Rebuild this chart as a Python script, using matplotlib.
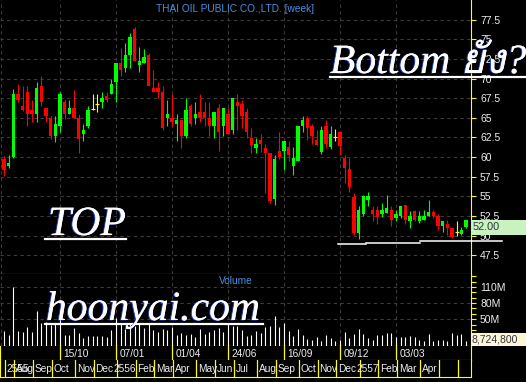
import matplotlib
matplotlib.use("Agg")
import matplotlib.pyplot as plt
from matplotlib import font_manager, patheffects
from matplotlib.ft2font import FT2Font
from matplotlib.lines import Line2D
from matplotlib.patches import Rectangle

# weekly candles, THAI OIL, from week of 23/07/2012
opens = [59.7, 58.8, 60.0, 68.0, 66.5, 68.3, 66.0, 65.5, 69.0, 66.3,
         65.0, 62.7, 63.9, 67.0, 65.5, 66.3, 65.0, 62.9, 63.9, 66.1,
         66.8, 67.0, 67.8, 68.0, 69.5, 72.0, 71.4, 73.0, 76.3, 71.7,
         72.0, 73.0, 68.8, 68.8, 68.3, 65.0, 65.0, 64.2, 64.7, 62.7,
         66.5, 65.0, 65.7, 65.7, 65.0, 63.9, 66.3, 63.9, 65.5, 63.4,
         67.0, 66.7, 65.7, 62.4, 61.1, 62.2, 61.2, 60.5, 54.7, 60.8,
         60.8, 61.3, 58.9, 59.5, 63.9, 65.0, 63.9, 62.2, 60.7, 63.9,
         61.3, 62.5, 63.2, 59.9, 58.5, 54.9, 50.3, 52.8, 54.5, 53.3,
         53.3, 52.8, 52.9, 53.3, 52.2, 52.5, 53.9, 51.8, 53.1, 51.8,
         52.0, 52.5, 53.0, 52.5, 51.2, 51.5, 50.9, 50.4, 50.2, 51.1]
highs = [60.1, 60.3, 68.7, 69.3, 69.0, 69.0, 67.2, 69.5, 70.3, 66.3,
         65.2, 65.2, 68.3, 67.2, 67.2, 68.5, 65.5, 64.2, 66.5, 68.0,
         68.0, 68.3, 68.3, 70.0, 72.0, 73.9, 74.5, 75.8, 76.5, 74.0,
         73.7, 73.2, 71.1, 69.5, 69.0, 67.2, 68.0, 65.5, 64.7, 67.5,
         66.7, 67.0, 68.0, 67.0, 67.0, 65.7, 66.7, 66.3, 66.3, 67.5,
         68.0, 67.2, 66.3, 63.7, 62.4, 62.9, 61.7, 60.5, 60.3, 63.2,
         62.0, 62.0, 61.3, 63.9, 65.2, 65.2, 64.2, 63.4, 63.9, 64.7,
         63.9, 63.6, 63.2, 60.3, 59.9, 55.4, 53.7, 55.2, 55.5, 53.7,
         53.7, 54.2, 55.2, 53.8, 53.3, 53.7, 53.9, 53.1, 53.3, 53.1,
         53.3, 54.5, 53.3, 52.8, 51.8, 52.0, 50.9, 51.8, 51.1, 52.0]
lows = [57.6, 58.6, 59.9, 67.0, 65.8, 63.9, 64.5, 64.5, 66.5, 64.5,
        62.3, 61.9, 63.2, 64.9, 65.5, 65.0, 60.5, 62.1, 63.7, 66.0,
        65.7, 66.3, 67.0, 68.0, 67.0, 70.3, 70.8, 71.4, 72.2, 70.8,
        72.0, 69.1, 68.3, 67.5, 63.4, 63.9, 63.9, 62.1, 61.1, 62.4,
        63.9, 64.2, 64.5, 63.9, 62.7, 62.4, 60.8, 62.7, 62.9, 62.9,
        63.4, 63.7, 62.4, 60.5, 60.5, 60.7, 55.4, 54.1, 53.9, 59.8,
        58.3, 59.5, 57.7, 59.5, 63.2, 62.2, 61.7, 61.5, 60.4, 61.1,
        61.0, 62.1, 60.3, 56.7, 55.5, 50.1, 49.5, 52.5, 53.7, 51.8,
        51.5, 52.4, 52.9, 51.2, 51.8, 52.2, 51.5, 51.0, 51.8, 51.6,
        52.0, 52.5, 52.2, 50.7, 50.5, 50.1, 49.7, 50.0, 50.1, 50.9]
closes = [58.3, 59.2, 68.0, 67.2, 66.0, 65.5, 65.5, 68.8, 67.0, 65.2,
          62.7, 64.2, 68.0, 65.5, 66.3, 65.0, 62.3, 63.4, 66.0, 66.1,
          66.8, 67.5, 67.2, 69.3, 72.0, 71.1, 73.0, 75.3, 72.2, 72.2,
          72.7, 69.1, 68.3, 68.3, 63.7, 65.5, 64.5, 64.7, 62.7, 66.0,
          64.2, 65.5, 65.0, 65.0, 63.9, 65.7, 63.2, 66.3, 62.9, 67.5,
          66.5, 65.2, 63.2, 61.5, 61.7, 61.7, 60.5, 54.4, 59.8, 60.0,
          62.0, 60.3, 59.9, 63.9, 64.7, 63.7, 62.7, 61.5, 63.4, 61.7,
          62.9, 62.5, 61.4, 58.6, 56.2, 50.3, 53.3, 55.0, 55.0, 52.8,
          52.4, 53.3, 53.5, 52.0, 52.8, 53.7, 52.0, 52.5, 52.0, 52.5,
          52.5, 53.0, 52.5, 51.2, 51.8, 50.9, 49.8, 50.4, 50.7, 52.0]
# volume in millions of shares
volumes = [27, 20, 110, 27, 26, 35, 26, 65, 42, 44,
           39, 42, 50, 20, 20, 34, 24, 14, 18, 18,
           18, 18, 17, 29, 53, 41, 32, 41, 38, 41,
           34, 41, 29, 26, 32, 30, 35, 21, 24, 20,
           23, 17, 32, 23, 26, 29, 34, 26, 41, 38,
           38, 30, 18, 20, 27, 24, 36, 38, 55, 36,
           43, 27, 18, 32, 21, 13, 11, 16, 9, 20,
           14, 9, 11, 26, 15, 23, 32, 23, 14, 11,
           21, 20, 25, 24, 16, 17, 16, 18, 17, 12,
           9, 22, 10, 11, 11, 9, 25, 21, 22, 8.7]

date_idx = [12, 24, 36, 48, 60, 72, 84]
date_labels = ["15/10", "07/01", "01/04", "24/06", "16/09", "09/12", "03/03"]
month_idx = [0, 2, 6, 10, 15, 19, 24, 28, 32, 36, 41, 45, 49,
             54, 58, 63, 67, 71, 76, 80, 84, 89, 93, 97]
month_labels = ["2555", "Aug", "Sep", "Oct", "Nov", "Dec", "2556", "Feb", "Mar",
                "Apr", "May", "Jun", "Jul", "Aug", "Sep", "Oct", "Nov", "Dec",
                "2557", "Feb", "Mar", "Apr", "", ""]
price_ticks = [47.5, 50, 52.5, 55, 57.5, 60, 62.5, 65, 67.5, 70, 72.5, 75, 77.5]
vol_ticks = list(range(10, 140, 10))
vol_labels = {50: "50M", 80: "80M", 110: "110M"}
support = [(71.6, 77.6, 48.9), (77.6, 89.2, 49.05), (89.2, 106.8, 49.25)]

# look for a font with thai glyphs for the overlay text
thai_family = None
for entry in font_manager.fontManager.ttflist:
    try:
        if 0x0E22 in FT2Font(entry.fname).get_charmap():
            thai_family = entry.name
            break
    except Exception:
        continue
serif = ["Liberation Serif"] + ([thai_family] if thai_family else []) + ["DejaVu Serif"]
sans = "Liberation Sans"

W, H = 526, 382
fig = plt.figure(figsize=(W / 100, H / 100), dpi=100, facecolor="black")
XR = 471 / W
xlim = (-0.857, 100.07)
grid_c = "#3c3c3c"
dash = (0, (3, 3))
txt_c = "#eeeeee"


def fy(py):
    return 1 - py / H


ax = fig.add_axes([0, fy(274), XR, 274 / H])
axv = fig.add_axes([0, fy(346), XR, 72 / H])
axd1 = fig.add_axes([0, fy(360), XR, 14 / H])
axd2 = fig.add_axes([0, fy(377), XR, 17 / H])

for a in (ax, axv, axd1, axd2):
    a.set_facecolor("black")
    a.set_xlim(*xlim)
    a.set_xticks([])
    for s in a.spines.values():
        s.set_visible(False)

# candles
idx = list(range(len(closes)))
colors, bottoms, heights = [], [], []
for o, c in zip(opens, closes):
    colors.append("#00ff00" if c > o else "#ff0000" if c < o else "#ffff00")
    bottoms.append(min(o, c))
    heights.append(abs(c - o))
ax.vlines(idx, lows, highs, colors=colors, lw=0.8, zorder=3)
ax.bar(idx, heights, width=0.7, bottom=bottoms, color=colors, lw=0, zorder=4)
for i, (o, c) in enumerate(zip(opens, closes)):
    if o == c:
        ax.hlines(c, i - 0.4, i + 0.4, colors="#ffff00", lw=0.8, zorder=4)

ax.set_ylim(45.1, 80)
ax.yaxis.tick_right()
ax.set_yticks(price_ticks)
ax.set_yticklabels([f"{v:g}" for v in price_ticks])
ax.tick_params(axis="y", colors="yellow", labelcolor=txt_c, length=3.5, width=0.8,
               labelsize=7.5, pad=3)
for lab in ax.get_yticklabels():
    lab.set_family(sans)
ax.grid(axis="y", color=grid_c, linestyle=dash, lw=0.8)
ax.spines["right"].set_visible(True)
ax.spines["right"].set_color("yellow")
ax.spines["bottom"].set_visible(True)
ax.spines["bottom"].set_color("yellow")
for d in date_idx + [-0.6]:
    ax.axvline(d, color=grid_c, linestyle=dash, lw=0.8, zorder=1)
ax.text(0.5, 0.985, "THAI OIL PUBLIC CO.,LTD. [week]", transform=ax.transAxes,
        ha="center", va="top", color="#4a8fe0", fontsize=7.3, family=sans)

for x0, x1, yv in support:
    ax.plot([x0, x1], [yv, yv], color="white", lw=1.1, zorder=5, clip_on=False)

# volume
axv.vlines(idx, 0, volumes, colors="white", lw=0.8, zorder=3)
axv.set_ylim(0, 134)
axv.yaxis.tick_right()
axv.set_yticks(vol_ticks)
axv.set_yticklabels([vol_labels.get(v, "") for v in vol_ticks])
axv.tick_params(axis="y", colors="yellow", labelcolor=txt_c, length=3.5, width=0.8,
                labelsize=7.5, pad=3)
for lab in axv.get_yticklabels():
    lab.set_family(sans)
for v in vol_labels:
    axv.axhline(v, color=grid_c, linestyle=dash, lw=0.8, zorder=1)
for d in date_idx + [-0.6]:
    axv.axvline(d, color=grid_c, linestyle=dash, lw=0.8, zorder=1)
for side in ("right", "bottom"):
    axv.spines[side].set_visible(True)
    axv.spines[side].set_color("yellow")
axv.text(0.5, 0.9, "Volume", transform=axv.transAxes, ha="center", va="center",
         color="#4a8fe0", fontsize=7.3, family=sans)

# date rows
for a in (axd1, axd2):
    a.set_ylim(0, 1)
    a.set_yticks([])
    for side in ("left", "right", "bottom"):
        a.spines[side].set_visible(True)
        a.spines[side].set_color("yellow")
for d, lab in zip(date_idx, date_labels):
    axd1.axvline(d, color="yellow", lw=0.9)
    axd1.text(d + 0.8, 0.45, lab, ha="left", va="center", color=txt_c,
              fontsize=7.3, family=sans)
for d, lab in zip(month_idx, month_labels):
    axd2.axvline(d + 0.2, color="yellow", lw=0.9)
    off = -0.5 if lab.isdigit() else 0.6
    if d == 0:
        off = 0.6
    axd2.text(d + off, 0.5, lab, ha="left", va="center", color=txt_c,
              fontsize=7.3, family=sans)

# last value boxes on the right
fig.add_artist(Rectangle((XR, fy(235)), 1 - XR, 15 / H, transform=fig.transFigure,
                         facecolor="#c8f2c0", lw=0, zorder=6))
fig.text(473 / W, fy(227.5), f"{closes[-1]:.2f}", ha="left", va="center",
         color="#303040", fontsize=7.8, family=sans, zorder=7)
fig.add_artist(Rectangle((XR, fy(346)), 1 - XR, 13 / H, transform=fig.transFigure,
                         facecolor="#fff6d6", lw=0, zorder=6))
fig.text(472 / W, fy(339.5), "8,724,800", ha="left", va="center",
         color="#303040", fontsize=7.5, family=sans, zorder=7)

# hand written notes
fx = [patheffects.withSimplePatchShadow(offset=(-0.8, -0.3), shadow_rgbFace="#3050ff",
                                        alpha=0.9), patheffects.Normal()]
notes = [("TOP", 48, 235, 45, 126, 239),
         ("Bottom ยัง?", 330, 73, 330, 526, 77),
         ("hoonyai.com", 46, 320, 45, 263, 324)]
for s, tx, ty, ux0, ux1, uy in notes:
    fig.text(tx / W, fy(ty), s, ha="left", va="baseline", color="white",
             fontsize=30, style="italic", family=serif, zorder=8, path_effects=fx)
    fig.add_artist(Line2D([ux0 / W, ux1 / W], [fy(uy), fy(uy)],
                          transform=fig.transFigure, color="white", lw=1.6, zorder=8))

fig.savefig("out.png", dpi=100, facecolor="black")
